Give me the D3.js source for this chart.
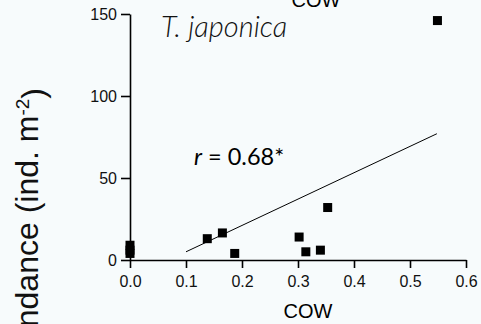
<!DOCTYPE html>
<html>
<head>
<meta charset="utf-8">
<script src="https://cdn.jsdelivr.net/npm/d3@7"></script>
<style>
  html, body { margin: 0; padding: 0; background: #f7fbfc; }
  svg { display: block; }
  .tick text { font-family: "Liberation Sans", Arial, sans-serif; font-size: 16px; fill: #111; }
</style>
</head>
<body>
<svg id="chart" width="481" height="324"></svg>
<script>
// COW vs abundance, T. japonica
const cowValues = [0, 0, 0, 0.138, 0.165, 0.187, 0.302, 0.314, 0.34, 0.353, 0.549];
const abundance = [9, 6, 4, 13, 16.5, 4, 14, 5, 6, 32, 146];
const fitLine = [[0.1, 5], [0.548, 77]];
const xTicks = [0, 0.1, 0.2, 0.3, 0.4, 0.5, 0.6];
const yTicks = [0, 50, 100, 150];

const svg = d3.select("#chart");

const x = d3.scaleLinear().domain([0, 0.6]).range([130, 466]);
const y = d3.scaleLinear().domain([0, 150]).range([260, 14]);

const xAxis = d3.axisBottom(x)
  .tickValues(xTicks)
  .tickFormat(d3.format(".1f"))
  .tickSize(8)
  .tickSizeOuter(0)
  .tickPadding(8);

const yAxis = d3.axisLeft(y)
  .tickValues(yTicks)
  .tickSize(9)
  .tickSizeOuter(0)
  .tickPadding(4);

const gx = svg.append("g").attr("transform", `translate(0,${y(0)})`).call(xAxis);
const gy = svg.append("g").attr("transform", `translate(${x(0)},0)`).call(yAxis);

[gx, gy].forEach(g => {
  g.select(".domain").attr("stroke", "#000").attr("stroke-width", 1.6);
  g.selectAll(".tick line").attr("stroke", "#000").attr("stroke-width", 1.6);
});
gy.selectAll(".tick text").attr("dy", "0.34em");

// regression line
svg.append("line")
  .attr("x1", x(fitLine[0][0])).attr("y1", y(fitLine[0][1]))
  .attr("x2", x(fitLine[1][0])).attr("y2", y(fitLine[1][1]))
  .attr("stroke", "#000").attr("stroke-width", 1);

// points
const sq = 9;
svg.append("g").selectAll("rect")
  .data(cowValues.map((c, i) => [c, abundance[i]]))
  .enter()
  .append("rect")
  .attr("x", d => x(d[0]) - sq / 2)
  .attr("y", d => y(d[1]) - sq / 2)
  .attr("width", sq)
  .attr("height", sq)
  .attr("fill", "#000");

// x axis titles (one cut off at the top from the panel above)
svg.append("text")
  .attr("x", 316).attr("y", 7)
  .attr("text-anchor", "middle")
  .style("font-family", "Liberation Sans, Arial, sans-serif")
  .style("font-size", "20px")
  .text("COW");

svg.append("text")
  .attr("x", 308).attr("y", 318)
  .attr("text-anchor", "middle")
  .style("font-family", "Liberation Sans, Arial, sans-serif")
  .style("font-size", "20px")
  .text("COW");

// y axis title
const yl = svg.append("text")
  .attr("transform", "translate(38,88) rotate(-90)")
  .attr("text-anchor", "end")
  .style("font-family", "Liberation Sans, Arial, sans-serif")
  .style("font-size", "32px")
  .style("fill", "#111");
yl.append("tspan").text("Abundance (ind. m");
yl.append("tspan").attr("dy", "-0.45em").style("font-size", "19px").text("-2");
yl.append("tspan").attr("dy", "0.45em").text(")");

// species label
svg.append("text")
  .attr("x", 161).attr("y", 37)
  .style("font-family", "Lato, sans-serif")
  .style("font-style", "italic")
  .style("font-weight", 300)
  .style("font-size", "29px")
  .style("fill", "#111")
  .text("T. japonica");

// correlation
const rt = svg.append("text")
  .attr("x", 194).attr("y", 165)
  .style("font-family", "Lato, sans-serif")
  .style("font-size", "23.5px")
  .style("fill", "#000");
rt.append("tspan").style("font-style", "italic").text("r");
rt.append("tspan").text(" = 0.68*");
</script>
</body>
</html>
